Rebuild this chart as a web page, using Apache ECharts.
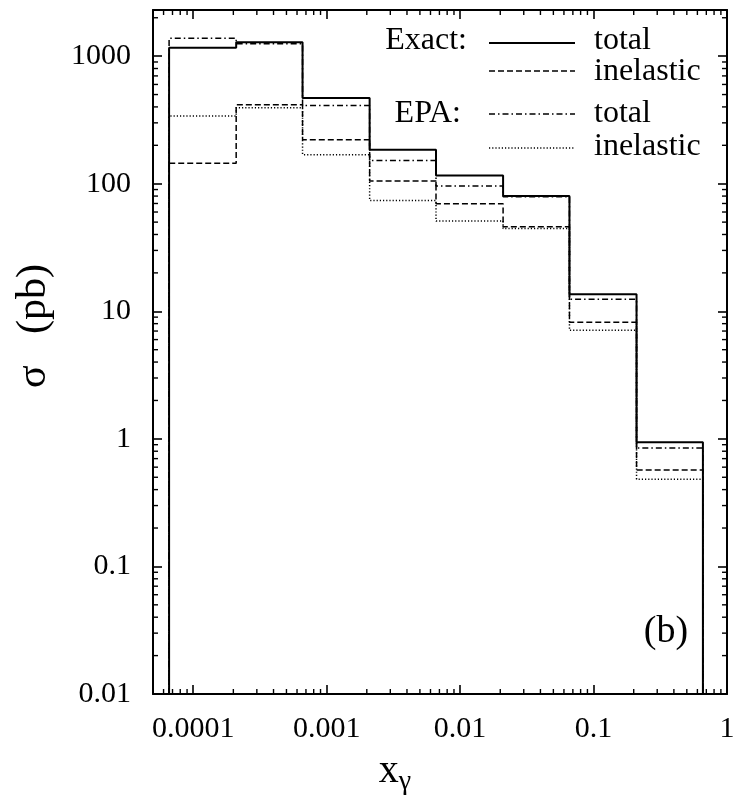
<!DOCTYPE html>
<html>
<head>
<meta charset="utf-8">
<script src="https://cdn.jsdelivr.net/npm/echarts@6/dist/echarts.min.js"></script>
<style>
  html, body { margin: 0; padding: 0; background: #ffffff; }
  #chart { width: 741px; height: 807px; }
</style>
</head>
<body>
<div id="chart"></div>
<script>
// Half-decade bin edges in x_gamma
const binEdges = [0.000066, 0.00021, 0.00066, 0.0021, 0.0066, 0.021, 0.066, 0.21, 0.66];

// Cross sections per bin (pb)
const exactTotal     = [1163, 1287, 469, 185, 116, 80.2, 13.6, 0.94];
const exactInelastic = [145, 416, 221, 105, 69.8, 46, 8.2, 0.571];
const epaTotal       = [1383, 1250, 411, 152, 96, 79, 12.4, 0.846];
const epaInelastic   = [339, 394, 169, 74, 51, 44.5, 7.1, 0.483];

// Axis ranges
const xMin = 5e-5, xMax = 1;
const yMin = 0.01, yMax = 2300;

const FONT = '"Liberation Serif", "DejaVu Serif", serif';

// Closed histogram outline starting and ending on the lower axis bound
function stepPath(values) {
  const pts = [[binEdges[0], yMin]];
  values.forEach((v, i) => {
    pts.push([binEdges[i], v]);
    pts.push([binEdges[i + 1], v]);
  });
  pts.push([binEdges[binEdges.length - 1], yMin]);
  return pts;
}

// Logarithmic minor tick positions (2..9 within each decade)
const xMinor = [];
for (let k = -5; k <= -1; k++) {
  for (let m = 2; m <= 9; m++) {
    const v = m * Math.pow(10, k);
    if (v > xMin && v < xMax) xMinor.push([v, 1]);
  }
}
const yMinor = [];
for (let k = -2; k <= 3; k++) {
  for (let m = 2; m <= 9; m++) {
    const v = m * Math.pow(10, k);
    if (v > yMin && v < yMax) yMinor.push([0.001, v]);
  }
}

function fmt(v) { return String(parseFloat(Number(v).toPrecision(4))); }

function xMinorItem(params, api) {
  const cs = params.coordSys;
  const px = api.coord([api.value(0), api.value(1)])[0];
  const yb = cs.y + cs.height, yt = cs.y;
  const st = { stroke: '#000', lineWidth: 1.4 };
  return { type: 'group', children: [
    { type: 'line', shape: { x1: px, y1: yb, x2: px, y2: yb - 5 }, style: st },
    { type: 'line', shape: { x1: px, y1: yt, x2: px, y2: yt + 5 }, style: st }
  ]};
}
function yMinorItem(params, api) {
  const cs = params.coordSys;
  const py = api.coord([api.value(0), api.value(1)])[1];
  const xl = cs.x, xr = cs.x + cs.width;
  const st = { stroke: '#000', lineWidth: 1.4 };
  return { type: 'group', children: [
    { type: 'line', shape: { x1: xl, y1: py, x2: xl + 5, y2: py }, style: st },
    { type: 'line', shape: { x1: xr, y1: py, x2: xr - 5, y2: py }, style: st }
  ]};
}

const axisLine = { show: true, lineStyle: { color: '#000', width: 2 } };
const majorTick = { show: true, inside: true, length: 9, lineStyle: { color: '#000', width: 1.6 } };

const chart = echarts.init(document.getElementById('chart'), null, { renderer: 'canvas' });

// Legend: sample lines and labels
const legendLineY = [43, 71, 114, 148];
const legendTextY = [41, 72, 114, 147];
const legendStyles = [
  { lineDash: null, lineWidth: 2 },
  { lineDash: [6, 3], lineWidth: 1.5 },
  { lineDash: [6, 3, 1.5, 3], lineWidth: 1.5 },
  { lineDash: [1.2, 2], lineWidth: 1.5 }
];
const legendNames = ['total', 'inelastic', 'total', 'inelastic'];

const graphics = [];
legendLineY.forEach((y, i) => {
  graphics.push({
    type: 'line', shape: { x1: 489, y1: y, x2: 575, y2: y },
    style: { stroke: '#000', lineWidth: legendStyles[i].lineWidth, lineDash: legendStyles[i].lineDash }
  });
  graphics.push({
    type: 'text', x: 594, y: legendTextY[i],
    style: { text: legendNames[i], font: '32px ' + FONT, fill: '#000', textAlign: 'left', textVerticalAlign: 'middle' }
  });
});
graphics.push({
  type: 'text', x: 467, y: 41,
  style: { text: 'Exact:', font: '32px ' + FONT, fill: '#000', textAlign: 'right', textVerticalAlign: 'middle' }
});
graphics.push({
  type: 'text', x: 461, y: 114,
  style: { text: 'EPA:', font: '32px ' + FONT, fill: '#000', textAlign: 'right', textVerticalAlign: 'middle' }
});
graphics.push({
  type: 'text', x: 666, y: 632,
  style: { text: '(b)', font: '38px ' + FONT, fill: '#000', textAlign: 'center', textVerticalAlign: 'middle' }
});

const option = {
  backgroundColor: '#ffffff',
  animation: false,
  grid: { left: 153, right: 14, top: 10, bottom: 113, containLabel: false },
  xAxis: [
    {
      type: 'log', logBase: 10, min: xMin, max: xMax,
      axisLine: axisLine, axisTick: majorTick, splitLine: { show: false },
      axisLabel: {
        show: true, margin: 20, showMinLabel: false, showMaxLabel: true,
        fontFamily: FONT, fontSize: 30, color: '#000', formatter: fmt
      },
      name: '{x|x}{g|γ}', nameLocation: 'middle', nameGap: 52,
      nameTextStyle: {
        padding: [0, 90, 0, 0],
        rich: {
          x: { fontFamily: FONT, fontSize: 40, color: '#000' },
          g: { fontFamily: FONT, fontSize: 28, color: '#000', padding: [22, 0, 0, 0] }
        }
      }
    },
    {
      type: 'log', logBase: 10, min: xMin, max: xMax, position: 'top',
      axisLine: axisLine, axisTick: majorTick, splitLine: { show: false },
      axisLabel: { show: false }
    }
  ],
  yAxis: [
    {
      type: 'log', logBase: 10, min: yMin, max: yMax,
      axisLine: axisLine, axisTick: majorTick, splitLine: { show: false },
      axisLabel: {
        show: true, margin: 22, showMinLabel: true, showMaxLabel: false,
        fontFamily: FONT, fontSize: 30, color: '#000', formatter: fmt
      },
      name: 'σ   (pb)', nameLocation: 'middle', nameRotate: 90, nameGap: 98,
      nameTextStyle: { fontFamily: FONT, fontSize: 42, color: '#000', padding: [0, 0, 0, 52] }
    },
    {
      type: 'log', logBase: 10, min: yMin, max: yMax, position: 'right',
      axisLine: axisLine, axisTick: majorTick, splitLine: { show: false },
      axisLabel: { show: false }
    }
  ],
  graphic: graphics,
  series: [
    {
      name: 'EPA inelastic', type: 'line', data: stepPath(epaInelastic),
      showSymbol: false, symbol: 'none',
      lineStyle: { color: '#000', width: 1.5, type: [1.2, 2] }, z: 2
    },
    {
      name: 'Exact inelastic', type: 'line', data: stepPath(exactInelastic),
      showSymbol: false, symbol: 'none',
      lineStyle: { color: '#000', width: 1.5, type: [6, 3] }, z: 3
    },
    {
      name: 'EPA total', type: 'line', data: stepPath(epaTotal),
      showSymbol: false, symbol: 'none',
      lineStyle: { color: '#000', width: 1.5, type: [6, 3, 1.5, 3] }, z: 4
    },
    {
      name: 'Exact total', type: 'line', data: stepPath(exactTotal),
      showSymbol: false, symbol: 'none',
      lineStyle: { color: '#000', width: 2, type: 'solid' }, z: 5
    },
    {
      type: 'custom', renderItem: xMinorItem, data: xMinor, silent: true, clip: false, z: 6
    },
    {
      type: 'custom', renderItem: yMinorItem, data: yMinor, silent: true, clip: false, z: 6
    }
  ]
};

chart.setOption(option);
</script>
</body>
</html>
